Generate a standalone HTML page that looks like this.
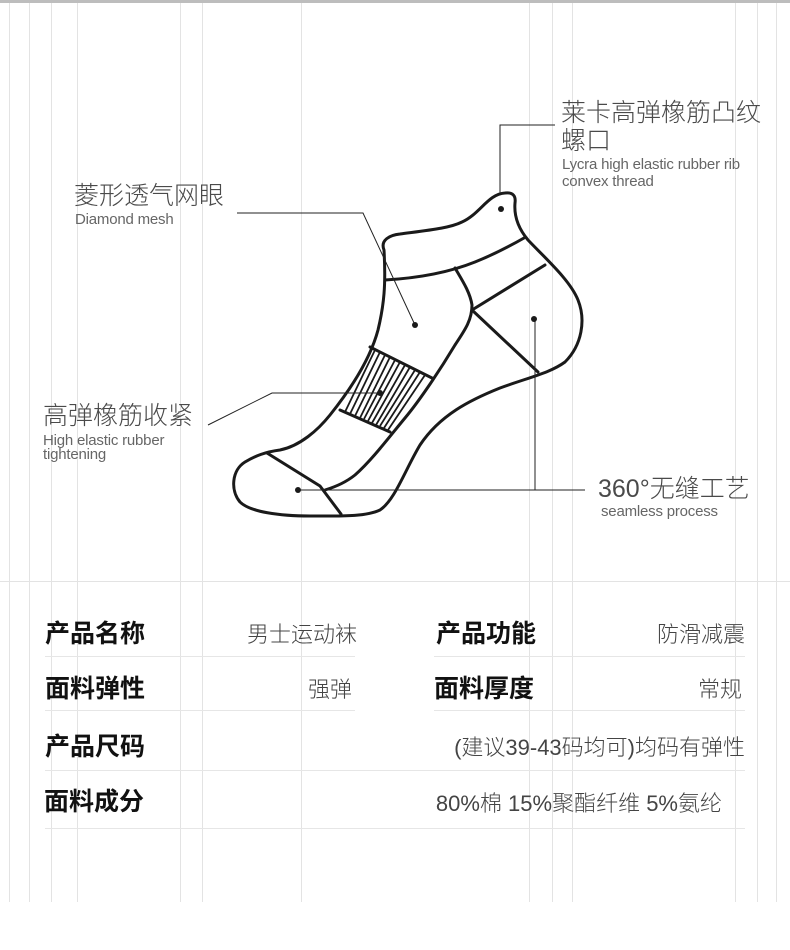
<!DOCTYPE html>
<html><head><meta charset="utf-8"><style>
html,body{margin:0;padding:0;background:#fff;}
body{width:790px;height:950px;position:relative;overflow:hidden;font-family:"Liberation Sans","Noto Sans CJK SC",sans-serif;}
.t{position:absolute;white-space:nowrap;}
.cn{font-size:25px;color:#4a4a4a;line-height:28px;font-weight:300;}
.en{font-size:15px;color:#666;line-height:17px;letter-spacing:-0.2px;}
.lab{font-size:25px;font-weight:bold;color:#111;line-height:28px;}
.val{font-size:22px;color:#444;line-height:26px;font-weight:300;text-align:right;}
</style></head><body>
<svg width="790" height="950" style="position:absolute;left:0;top:0">
<rect x="0" y="0" width="790" height="3" fill="#bdbdbd"/>
<g stroke="#e3e3e3" stroke-width="1">
<line x1="9.5" y1="3" x2="9.5" y2="902"/><line x1="29.5" y1="3" x2="29.5" y2="902"/>
<line x1="51.5" y1="3" x2="51.5" y2="902"/><line x1="77.5" y1="3" x2="77.5" y2="902"/>
<line x1="180.5" y1="3" x2="180.5" y2="902"/><line x1="202.5" y1="3" x2="202.5" y2="902"/>
<line x1="301.5" y1="3" x2="301.5" y2="902"/><line x1="529.5" y1="3" x2="529.5" y2="902"/>
<line x1="552.5" y1="3" x2="552.5" y2="902"/><line x1="572.5" y1="3" x2="572.5" y2="902"/>
<line x1="735.5" y1="3" x2="735.5" y2="902"/><line x1="757.5" y1="3" x2="757.5" y2="902"/>
<line x1="776.5" y1="3" x2="776.5" y2="902"/>
<line x1="0" y1="581.5" x2="790" y2="581.5"/>
</g>
<g stroke="#e6e6e6" stroke-width="1">
<line x1="45" y1="656.5" x2="355" y2="656.5"/><line x1="434" y1="656.5" x2="745" y2="656.5"/>
<line x1="45" y1="710.5" x2="355" y2="710.5"/><line x1="434" y1="710.5" x2="745" y2="710.5"/>
<line x1="45" y1="770.5" x2="745" y2="770.5"/>
<line x1="45" y1="828.5" x2="745" y2="828.5"/>
</g>
<g fill="none" stroke="#1a1a1a" stroke-width="3" stroke-linejoin="round" stroke-linecap="round">
<path d="M384,250 C380,240 390,235 400,234 C430,230 450,228 462,222 C480,214 488,194 505,193 C513,192 516,196 515,203 C514,215 518,228 528,240 C545,258 570,280 578,300 C586,320 582,345 565,362 C550,373 530,377 500,388 C470,400 440,415 420,445 C405,470 395,500 380,510 C365,517 340,516 310,516 C280,516 250,512 240,502 C230,490 232,470 245,462 C255,456 265,452 280,450 C300,446 318,430 330,415 C350,390 370,360 378,330 C384,305 386,285 384,250 Z"/>
<path d="M385,280 C420,278 450,272 475,262 C495,254 510,246 524,238"/>
<path d="M455,268 C462,280 470,292 472,305 C472,320 465,330 455,345 C440,370 420,400 405,418 C390,436 372,460 355,475 C345,483 335,487 325,490"/>
<path d="M472,310 L545,265"/>
<path d="M472,310 L538,372"/>
<path d="M267,453 L320,486 L341,514"/>
<path d="M370,347 L432,378 M340,410 L390,432"/>
</g>
<g stroke="#1a1a1a" stroke-width="1.8">
<line x1="375" y1="350" x2="345" y2="412"/><line x1="380" y1="352" x2="350" y2="414"/>
<line x1="385" y1="355" x2="355" y2="416"/><line x1="390" y1="357" x2="360" y2="418"/>
<line x1="395" y1="360" x2="364" y2="419"/><line x1="400" y1="362" x2="368" y2="421"/>
<line x1="405" y1="365" x2="372" y2="423"/><line x1="410" y1="367" x2="376" y2="425"/>
<line x1="415" y1="370" x2="380" y2="426"/><line x1="420" y1="372" x2="384" y2="428"/>
<line x1="425" y1="375" x2="388" y2="430"/>
</g>
<g stroke="#222" stroke-width="1" fill="none">
<polyline points="500,193 500,125 555,125"/>
<polyline points="237,213 363,213 415,325"/>
<polyline points="208,425 272,393 380,393"/>
<polyline points="298,490 585,490"/>
<polyline points="535,319 535,490"/>
</g>
<g fill="#1a1a1a">
<circle cx="501" cy="209" r="3"/><circle cx="415" cy="325" r="3"/><circle cx="534" cy="319" r="3"/>
<circle cx="380" cy="393" r="3"/><circle cx="298" cy="490" r="3"/>
</g>
</svg>
<div class="t cn" style="left:561px;top:99px">莱卡高弹橡筋凸纹</div>
<div class="t cn" style="left:561px;top:127px">螺口</div>
<div class="t en" style="left:562px;top:156px">Lycra high elastic rubber rib</div>
<div class="t en" style="left:562px;top:173px">convex thread</div>
<div class="t cn" style="left:74px;top:182px">菱形透气网眼</div>
<div class="t en" style="left:75px;top:211px">Diamond mesh</div>
<div class="t cn" style="left:43px;top:402px">高弹橡筋收紧</div>
<div class="t en" style="left:43px;top:434px;line-height:14px">High elastic rubber<br>tightening</div>
<div class="t cn" style="left:598px;top:475px">360°无缝工艺</div>
<div class="t en" style="left:601px;top:503px">seamless process</div>

<div class="t lab" style="left:45px;top:620px">产品名称</div>
<div class="t val" style="right:433px;top:622px">男士运动袜</div>
<div class="t lab" style="left:436px;top:620px">产品功能</div>
<div class="t val" style="right:45px;top:622px">防滑减震</div>
<div class="t lab" style="left:45px;top:675px">面料弹性</div>
<div class="t val" style="right:438px;top:677px">强弹</div>
<div class="t lab" style="left:434px;top:675px">面料厚度</div>
<div class="t val" style="right:48px;top:677px">常规</div>
<div class="t lab" style="left:45px;top:733px">产品尺码</div>
<div class="t val" style="right:45px;top:735px">(建议39-43码均可)均码有弹性</div>
<div class="t lab" style="left:44px;top:788px">面料成分</div>
<div class="t val" style="right:68px;top:791px">80%棉 15%聚酯纤维 5%氨纶</div>
</body></html>
